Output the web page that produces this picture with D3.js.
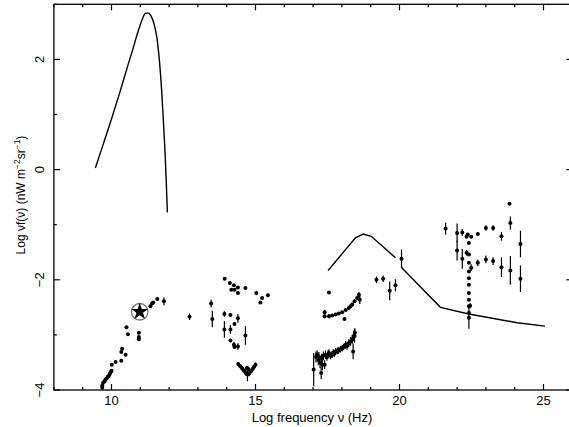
<!DOCTYPE html>
<html>
<head>
<meta charset="utf-8">
<script src="https://cdn.jsdelivr.net/npm/d3@7"></script>
<style>
  body { margin: 0; background: #fff; }
  svg { display: block; }
  text { font-family: "Liberation Sans", Arial, Helvetica, sans-serif; fill: #000; }
</style>
</head>
<body>
<script>
// --- data: [log nu, log nuF(nu), error] ---
const cmbCurve = [[9.44,0.03],[9.7,0.44],[10.0,0.92],[10.3,1.42],[10.55,1.86],[10.75,2.2],[10.9,2.47],
  [11.0,2.63],[11.1,2.77],[11.18,2.84],[11.28,2.84],[11.38,2.78],[11.48,2.64],[11.58,2.38],[11.66,2.0],
  [11.74,1.45],[11.8,0.9],[11.86,0.3],[11.9,-0.2],[11.94,-0.78]];

const modelHigh = [[17.52,-1.83],[18.47,-1.24],[18.74,-1.17],[19.02,-1.21],[19.86,-1.6]];
const modelLow = [[20.08,-1.78],[21.42,-2.50],[22.41,-2.62],[24.09,-2.78],[25.05,-2.84]];

const radioPts = [[9.68,-3.96,0],[9.68,-3.92,0],[9.71,-3.87,0],[9.76,-3.84,0],[9.79,-3.81,0],[9.83,-3.79,0],
  [9.87,-3.76,0],[9.91,-3.74,0],[9.94,-3.71,0],[9.97,-3.68,0],[10.0,-3.65,0],[10.01,-3.54,0],[10.14,-3.49,0],
  [10.34,-3.47,0],[10.34,-3.31,0],[10.37,-3.25,0],[10.49,-3.36,0],[10.52,-2.86,0],[10.57,-2.99,0],
  [10.95,-2.96,0],[10.95,-3.04,0],[10.95,-3.08,0],[11.35,-2.48,0.03],[11.41,-2.43,0],[11.45,-2.41,0],
  [11.59,-2.35,0],[11.82,-2.39,0.07],[12.71,-2.67,0.06]];

const starPt = [10.98, -2.58];

const opticalPts = [[13.93,-1.98,0],[14.11,-2.06,0],[14.25,-2.10,0],[14.39,-2.14,0],[14.16,-2.18,0],
  [14.27,-2.18,0],[14.39,-2.24,0],[14.65,-2.15,0],[15.03,-2.24,0],[15.23,-2.33,0],[15.43,-2.28,0],
  [15.17,-2.41,0],[13.46,-2.43,0.07],[13.50,-2.71,0.15],[13.92,-2.62,0.05],[14.13,-2.64,0.03],
  [13.92,-2.90,0.15],[14.13,-2.90,0.08],[14.27,-2.80,0.03],[14.39,-2.70,0.08],[14.13,-3.10,0.03],
  [14.25,-3.18,0.05],[14.27,-3.22,0.03],[14.39,-3.21,0.06],[14.65,-3.01,0.17]];

const bowtiePts = [[14.40,-3.53,0.04],[14.47,-3.57,0.04],[14.54,-3.61,0.04],[14.60,-3.65,0.04],
  [14.66,-3.69,0.05],[14.72,-3.72,0.12],[14.78,-3.70,0.05],[14.84,-3.66,0.04],[14.90,-3.62,0.04],
  [14.95,-3.58,0.04],[15.00,-3.54,0.04],[14.70,-3.60,0.04],[14.75,-3.62,0.04]];

const xrayHigh = [[17.55,-2.23,0],[17.40,-2.59,0.04],[17.40,-2.66,0.04],[17.55,-2.66,0.04],[17.66,-2.65,0],
  [17.78,-2.63,0],[17.89,-2.61,0],[18.01,-2.59,0],[18.09,-2.71,0],[18.13,-2.55,0],[18.24,-2.51,0],
  [18.30,-2.48,0],[18.36,-2.45,0.03],[18.44,-2.39,0.03],[18.53,-2.33,0.04],[18.59,-2.27,0.05],[18.62,-2.36,0.08]];

const xrayLow = [[17.02,-3.63,0.3],[17.10,-3.40,0.1],[17.14,-3.36,0.08],[17.18,-3.45,0.1],[17.20,-3.39,0.08],
  [17.24,-3.50,0.1],[17.28,-3.69,0.11],[17.30,-3.42,0.08],[17.32,-3.54,0.1],[17.36,-3.38,0.08],
  [17.40,-3.54,0.08],[17.43,-3.36,0.08],[17.48,-3.40,0.07],[17.52,-3.35,0.07],[17.55,-3.33,0.07],
  [17.60,-3.38,0.06],[17.66,-3.36,0.06],[17.70,-3.32,0.06],[17.74,-3.34,0.06],[17.78,-3.30,0.06],
  [17.84,-3.29,0.06],[17.89,-3.28,0.06],[17.95,-3.26,0.06],[18.01,-3.24,0.06],[18.06,-3.22,0.06],
  [18.13,-3.18,0.07],[18.18,-3.20,0.07],[18.24,-3.15,0.07],[18.30,-3.12,0.08],[18.36,-3.08,0.08],
  [18.39,-3.30,0.14],[18.41,-3.02,0.1],[18.44,-3.02,0.12],[18.45,-2.96,0.08]];

const hardXPts = [[19.20,-2.0,0.06],[19.43,-1.98,0.06],[19.66,-2.20,0.17],[19.86,-2.10,0.11],[20.07,-1.62,0.17]];

const gammaPts = [[21.60,-1.07,0.11],[22.00,-1.15,0.17],[22.18,-1.14,0.06],[22.00,-1.47,0.18],
  [22.18,-1.62,0.18],[22.33,-1.22,0],[22.37,-1.18,0],[22.49,-1.22,0],[22.41,-1.33,0],[22.33,-1.51,0.05],
  [22.41,-1.54,0],[22.41,-1.69,0],[22.49,-1.78,0.06],[22.72,-1.17,0],[22.72,-1.69,0.06],[23.00,-1.06,0.05],
  [23.00,-1.63,0.07],[23.25,-1.06,0.05],[23.25,-1.66,0.07],[23.54,-1.21,0.08],[23.54,-1.77,0.18],
  [23.82,-0.62,0],[23.85,-0.97,0.12],[23.85,-1.83,0.26],[24.20,-1.35,0.24],[24.20,-1.98,0.24],
  [22.41,-1.85,0],[22.41,-1.97,0],[22.41,-2.09,0],[22.41,-2.24,0],[22.41,-2.36,0],[22.45,-2.47,0.05],
  [22.41,-2.48,0],[22.41,-2.60,0],[22.41,-2.69,0.2]];

const xTicks = [10, 15, 20, 25];
const yTicks = [-4, -2, 0, 2];

// --- layout ---
const width = 569, height = 427;
const x = d3.scaleLinear().domain([8, 26]).range([53.9, 572.3]);
const y = d3.scaleLinear().domain([-4, 3]).range([390, 4.3]);

const svg = d3.select("body").append("svg")
  .attr("width", width)
  .attr("height", height);

// frame
svg.append("rect")
  .attr("x", x(8)).attr("y", y(3))
  .attr("width", x(26) - x(8)).attr("height", y(-4) - y(3))
  .attr("fill", "none").attr("stroke", "#000").attr("stroke-width", 1.3);

// inward ticks on all four sides
const xAll = d3.range(8, 27, 1);
const yAll = d3.range(-4, 4, 1);
const tickLen = v => (v % 5 === 0 ? 6 : 3);
const yTickLen = v => (v % 2 === 0 ? 6 : 3);

svg.selectAll(".xtick-b").data(xAll).enter().append("line")
  .attr("x1", d => x(d)).attr("x2", d => x(d))
  .attr("y1", y(-4)).attr("y2", d => y(-4) - tickLen(d))
  .attr("stroke", "#000").attr("stroke-width", 1.2);
svg.selectAll(".xtick-t").data(xAll).enter().append("line")
  .attr("x1", d => x(d)).attr("x2", d => x(d))
  .attr("y1", y(3)).attr("y2", d => y(3) + tickLen(d))
  .attr("stroke", "#000").attr("stroke-width", 1.2);
svg.selectAll(".ytick-l").data(yAll).enter().append("line")
  .attr("x1", x(8)).attr("x2", d => x(8) + yTickLen(d))
  .attr("y1", d => y(d)).attr("y2", d => y(d))
  .attr("stroke", "#000").attr("stroke-width", 1.2);
svg.selectAll(".ytick-r").data(yAll).enter().append("line")
  .attr("x1", x(26)).attr("x2", d => x(26) - yTickLen(d))
  .attr("y1", d => y(d)).attr("y2", d => y(d))
  .attr("stroke", "#000").attr("stroke-width", 1.2);

// tick labels
svg.selectAll(".xlab").data(xTicks).enter().append("text")
  .attr("x", d => x(d)).attr("y", 405)
  .attr("text-anchor", "middle").attr("font-size", 13)
  .text(d => d);

svg.selectAll(".ylab").data(yTicks).enter().append("text")
  .attr("transform", d => `translate(43.5,${y(d)}) rotate(-90)`)
  .attr("text-anchor", "middle").attr("font-size", 13)
  .text(d => (d < 0 ? "\u2212" + Math.abs(d) : d));

// axis titles
svg.append("text")
  .attr("x", 312).attr("y", 422)
  .attr("text-anchor", "middle").attr("font-size", 13)
  .text("Log frequency \u03bd (Hz)");

const yt = svg.append("text")
  .attr("transform", "translate(25,195) rotate(-90)")
  .attr("text-anchor", "middle").attr("font-size", 12);
yt.append("tspan").text("Log \u03bdf(\u03bd) (nW m");
yt.append("tspan").attr("dy", -5).attr("font-size", 8.5).text("\u22122");
yt.append("tspan").attr("dy", 5).text("sr");
yt.append("tspan").attr("dy", -5).attr("font-size", 8.5).text("\u22121");
yt.append("tspan").attr("dy", 5).text(")");

// model curves
const smooth = d3.line().curve(d3.curveMonotoneX).x(d => x(d[0])).y(d => y(d[1]));
const line = d3.line().x(d => x(d[0])).y(d => y(d[1]));
svg.append("path").datum(cmbCurve)
  .attr("d", smooth)
  .attr("fill", "none").attr("stroke", "#000").attr("stroke-width", 1.4);
[modelHigh, modelLow].forEach(c => {
  svg.append("path").datum(c)
    .attr("d", line)
    .attr("fill", "none").attr("stroke", "#000").attr("stroke-width", 1.4);
});

// data points with vertical error bars
const allPts = [].concat(radioPts, opticalPts, bowtiePts, xrayHigh, xrayLow, hardXPts, gammaPts);

svg.selectAll(".err").data(allPts.filter(d => d[2] > 0)).enter().append("line")
  .attr("x1", d => x(d[0])).attr("x2", d => x(d[0]))
  .attr("y1", d => y(d[1] - d[2])).attr("y2", d => y(d[1] + d[2]))
  .attr("stroke", "#000").attr("stroke-width", 1.2);

svg.selectAll(".pt").data(allPts).enter().append("circle")
  .attr("cx", d => x(d[0])).attr("cy", d => y(d[1]))
  .attr("r", 2).attr("fill", "#000");

// circled star
svg.append("circle")
  .attr("cx", x(starPt[0])).attr("cy", y(starPt[1]))
  .attr("r", 8.3).attr("fill", "none").attr("stroke", "#777").attr("stroke-width", 1.4);
svg.append("path")
  .attr("d", d3.symbol().type(d3.symbolStar).size(90)())
  .attr("transform", `translate(${x(starPt[0])},${y(starPt[1])})`)
  .attr("fill", "#000");
</script>
</body>
</html>
